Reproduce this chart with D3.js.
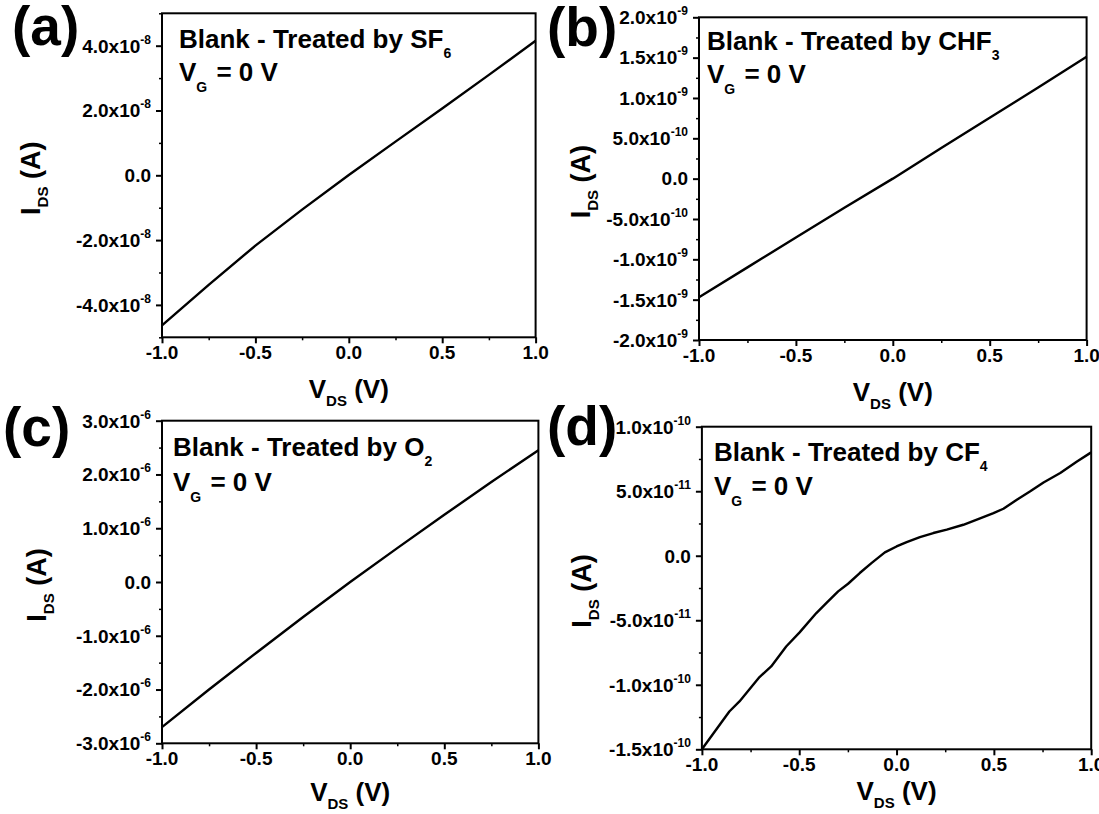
<!DOCTYPE html>
<html>
<head>
<meta charset="utf-8">
<script src="https://cdn.jsdelivr.net/npm/d3@7"></script>
<style>
  body { margin: 0; background: #fff; }
  svg text { font-family: "Liberation Sans", Arial, sans-serif; font-weight: bold; fill: #000; }
</style>
</head>
<body>
<svg id="chart" width="1099" height="814"></svg>
<script>
// dados
const vds = [-1, -0.75, -0.5, -0.25, 0, 0.25, 0.5, 0.75, 1];
const idsSF6 = [-4.63e-8, -3.38e-8, -2.17e-8, -1.06e-8, 0.01e-8, 1.04e-8, 2.06e-8, 3.1e-8, 4.15e-8];
const idsCHF3 = [-1.47e-9, -1.10e-9, -7.3e-10, -3.6e-10, 0, 3.8e-10, 7.55e-10, 1.13e-9, 1.51e-9];
const idsO2 = [-2.70e-6, -2.00e-6, -1.32e-6, -0.65e-6, 0, 0.63e-6, 1.25e-6, 1.86e-6, 2.45e-6];

const vdsCF4 = [-1, -0.859, -0.807, -0.704, -0.644, -0.567, -0.498, -0.412, -0.361, -0.3, -0.249,
  -0.189, -0.129, -0.06, 0, 0.052, 0.12, 0.189, 0.258, 0.343, 0.429, 0.498, 0.549, 0.618,
  0.687, 0.755, 0.841, 0.927, 1];
const idsCF4 = [-1.5e-10, -1.207e-10, -1.129e-10, -0.94e-10, -0.858e-10, -0.703e-10, -0.594e-10,
  -0.444e-10, -0.367e-10, -0.276e-10, -0.217e-10, -0.134e-10, -0.057e-10, 0.026e-10, 0.072e-10,
  0.106e-10, 0.145e-10, 0.176e-10, 0.202e-10, 0.24e-10, 0.289e-10, 0.33e-10, 0.364e-10,
  0.434e-10, 0.499e-10, 0.568e-10, 0.641e-10, 0.731e-10, 0.801e-10];

// ticks
const xTicks = [-1, -0.5, 0, 0.5, 1];
const xMinor = [-0.75, -0.25, 0.25, 0.75];
const yTicksSF6 = [-4e-8, -2e-8, 0, 2e-8, 4e-8];
const yTicksCHF3 = [-2e-9, -1.5e-9, -1e-9, -5e-10, 0, 5e-10, 1e-9, 1.5e-9, 2e-9];
const yTicksO2 = [-3e-6, -2e-6, -1e-6, 0, 1e-6, 2e-6, 3e-6];
const yTicksCF4 = [-1.5e-10, -1e-10, -5e-11, 0, 5e-11, 1e-10];

const panelLetters = ["(a)", "(b)", "(c)", "(d)"];
const gases = [["SF", "6"], ["CHF", "3"], ["O", "2"], ["CF", "4"]];

const panels = [
  { x: vds, y: idsSF6, yDomain: [-5e-8, 5e-8], yTicks: yTicksSF6,
    box: [162, 13.3, 535.6, 337.3], letter: [12, 45], note: [179, 48, 81], yTitleX: 40, xTitleY: 398 },
  { x: vds, y: idsCHF3, yDomain: [-2e-9, 2e-9], yTicks: yTicksCHF3,
    box: [699, 17.3, 1086.6, 340], letter: [547, 46], note: [707, 50, 83], yTitleX: 590, xTitleY: 401 },
  { x: vds, y: idsO2, yDomain: [-3e-6, 3e-6], yTicks: yTicksO2,
    box: [162, 420.7, 538.4, 743.3], letter: [3, 446], note: [173, 456, 491], yTitleX: 46, xTitleY: 801 },
  { x: vdsCF4, y: idsCF4, yDomain: [-1.5e-10, 1e-10], yTicks: yTicksCF4,
    box: [701.9, 426.7, 1091.2, 749.3], letter: [547, 445], note: [714, 461, 495], yTitleX: 591, xTitleY: 800 }
];

const svg = d3.select("#chart");

// formato 4.0x10^-8
function sci(v) {
  if (Math.abs(v) < 1e-30) return ["0.0", null];
  const e = Math.floor(Math.log10(Math.abs(v)) + 1e-9);
  return [(v / Math.pow(10, e)).toFixed(1) + "x10", String(e)];
}

function minorTicks(majors, domain) {
  const half = (majors[1] - majors[0]) / 2;
  const out = [];
  const n = Math.round((domain[1] - domain[0]) / half);
  for (let i = 0; i <= n; i++) {
    const v = domain[0] + i * half;
    if (!majors.some(m => Math.abs(m - v) < half * 1e-3)) out.push(v);
  }
  return out;
}

panels.forEach((p, i) => {
  const [left, top, right, bottom] = p.box;
  const g = svg.append("g");

  const x = d3.scaleLinear().domain([-1, 1]).range([left, right]);
  const y = d3.scaleLinear().domain(p.yDomain).range([bottom, top]);

  // eixo x
  g.append("g")
    .attr("transform", `translate(0, ${bottom})`)
    .call(d3.axisBottom(x).tickValues(xTicks).tickSize(6).tickSizeOuter(0).tickFormat(""))
    .call(a => a.selectAll("line").attr("stroke-width", 2))
    .call(a => a.select(".domain").remove());
  g.append("g")
    .attr("transform", `translate(0, ${bottom})`)
    .call(d3.axisBottom(x).tickValues(xMinor).tickSize(3).tickSizeOuter(0).tickFormat(""))
    .call(a => a.selectAll("line").attr("stroke-width", 1.5))
    .call(a => a.select(".domain").remove());

  // eixo y
  g.append("g")
    .attr("transform", `translate(${left}, 0)`)
    .call(d3.axisLeft(y).tickValues(p.yTicks).tickSize(6).tickSizeOuter(0).tickFormat(""))
    .call(a => a.selectAll("line").attr("stroke-width", 2))
    .call(a => a.select(".domain").remove());
  g.append("g")
    .attr("transform", `translate(${left}, 0)`)
    .call(d3.axisLeft(y).tickValues(minorTicks(p.yTicks, p.yDomain)).tickSize(3).tickSizeOuter(0).tickFormat(""))
    .call(a => a.selectAll("line").attr("stroke-width", 1.5))
    .call(a => a.select(".domain").remove());

  // moldura
  g.append("rect")
    .attr("x", left).attr("y", top)
    .attr("width", right - left).attr("height", bottom - top)
    .attr("fill", "none").attr("stroke", "#000").attr("stroke-width", 2);

  // rotulos x
  g.selectAll(".xl").data(xTicks).join("text")
    .attr("x", d => x(d)).attr("y", bottom + 22)
    .attr("text-anchor", "middle").attr("font-size", 19)
    .text(d => d.toFixed(1));

  // rotulos y
  p.yTicks.forEach(v => {
    const [m, e] = sci(v);
    const t = g.append("text")
      .attr("x", left - 11).attr("y", y(v)).attr("dy", "0.36em")
      .attr("text-anchor", "end").attr("font-size", 19);
    t.append("tspan").text(m);
    if (e) t.append("tspan").attr("font-size", 12).attr("dy", -9).text(e);
  });

  // linha
  const line = d3.line().x((d, j) => x(p.x[j])).y(d => y(d));
  g.append("path")
    .datum(p.y)
    .attr("fill", "none").attr("stroke", "#000").attr("stroke-width", 2.4)
    .attr("stroke-linejoin", "round")
    .attr("d", line);

  // letra do painel
  g.append("text")
    .attr("x", p.letter[0]).attr("y", p.letter[1])
    .attr("font-size", 55).text(panelLetters[i]);

  // anotacao
  const n1 = g.append("text").attr("x", p.note[0]).attr("y", p.note[1]).attr("font-size", 26);
  n1.append("tspan").text("Blank - Treated by " + gases[i][0]);
  n1.append("tspan").attr("font-size", 14).attr("dy", 10).text(gases[i][1]);
  const n2 = g.append("text").attr("x", p.note[0]).attr("y", p.note[2]).attr("font-size", 26);
  n2.append("tspan").text("V");
  n2.append("tspan").attr("font-size", 14).attr("dy", 11).text("G");
  n2.append("tspan").attr("dy", -11).attr("dx", 2).text(" = 0 V");

  // titulos
  const xt = g.append("text")
    .attr("x", (left + right) / 2).attr("y", p.xTitleY)
    .attr("text-anchor", "middle").attr("font-size", 26);
  xt.append("tspan").text("V");
  xt.append("tspan").attr("font-size", 15).attr("dy", 8).text("DS");
  xt.append("tspan").attr("dy", -8).text(" (V)");

  const yt = g.append("text")
    .attr("transform", `translate(${p.yTitleX}, ${(top + bottom) / 2 + 3}) rotate(-90)`)
    .attr("text-anchor", "middle").attr("font-size", 27);
  yt.append("tspan").text("I");
  yt.append("tspan").attr("font-size", 15).attr("dy", 8).text("DS");
  yt.append("tspan").attr("dy", -8).text(" (A)");
});
</script>
</body>
</html>
